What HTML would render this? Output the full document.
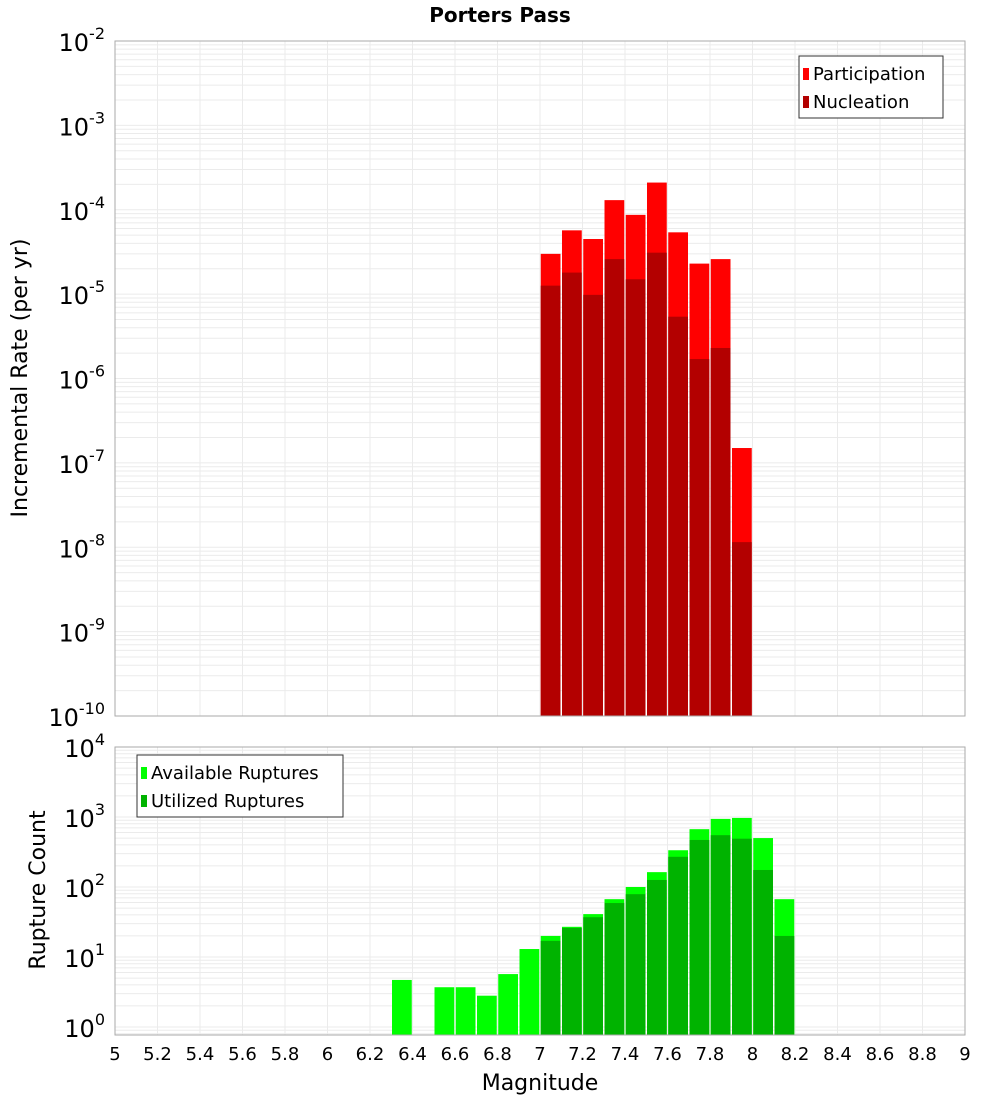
<!DOCTYPE html>
<html><head><meta charset="utf-8"><style>
body{margin:0;background:#fff;font-family:"Liberation Sans","DejaVu Sans",sans-serif}
svg text{font-family:"DejaVu Sans","Liberation Sans",sans-serif}
</style></head><body>
<svg id="c" width="1000" height="1100" xmlns="http://www.w3.org/2000/svg">
<text x="500" y="22" text-anchor="middle" font-size="20" font-weight="bold">Porters Pass</text>
<g id="top"></g>
<g id="bot"></g>
<text transform="translate(27,378) rotate(-90)" text-anchor="middle" font-size="22">Incremental Rate (per yr)</text>
<text transform="translate(45,890) rotate(-90)" text-anchor="middle" font-size="22">Rupture Count</text>
<text x="540" y="1090" text-anchor="middle" font-size="22">Magnitude</text>
</svg>
<script>
const topMags=[7.05,7.15,7.25,7.35,7.45,7.55,7.65,7.75,7.85,7.95];
const participation=[3.0e-5,5.7e-5,4.5e-5,1.3e-4,8.7e-5,2.1e-4,5.4e-5,2.3e-5,2.6e-5,1.5e-7];
const nucleation=[1.26e-5,1.8e-5,9.8e-6,2.6e-5,1.5e-5,3.1e-5,5.4e-6,1.7e-6,2.3e-6,1.15e-8];
const botMags=[6.35,6.55,6.65,6.75,6.85,6.95,7.05,7.15,7.25,7.35,7.45,7.55,7.65,7.75,7.85,7.95,8.05,8.15];
const available=[4.7,3.7,3.7,2.8,5.7,13,20,27,41,67,100,163,335,670,940,970,500,67];
const utilized=[0,0,0,0,0,0,17,26,37,59,79,126,270,470,550,490,175,20];
const xTicks=[5,5.2,5.4,5.6,5.8,6,6.2,6.4,6.6,6.8,7,7.2,7.4,7.6,7.8,8,8.2,8.4,8.6,8.8,9];
const topExps=[-2,-3,-4,-5,-6,-7,-8,-9,-10];
const botExps=[4,3,2,1,0];
const NS="http://www.w3.org/2000/svg";
const X0=115,X1=965;
const x=m=>X0+(m-5)/4*(X1-X0);
function el(p,t,a){const e=document.createElementNS(NS,t);for(const k in a)e.setAttribute(k,a[k]);p.appendChild(e);return e;}
function panel(g,y0,y1,lmax,lmin,plotBottom,name){
  const y=v=>y0+(lmax-Math.log10(v))/(lmax-lmin)*(y1-y0);
  const r=el(g,'rect',{x:X0,y:y0,width:X1-X0,height:plotBottom-y0,fill:'#fff'});
  
  for(let e=lmin-1;e<lmax;e++)for(let k=1;k<10;k++){const yy=y(k*Math.pow(10,e));if(yy<y0||yy>plotBottom)continue;
    const l=el(g,'line',{x1:X0,x2:X1,y1:yy,y2:yy,stroke:'#ebebeb','stroke-width':1});
    }
  xTicks.forEach(t=>{const l=el(g,'line',{x1:x(t),x2:x(t),y1:y0,y2:plotBottom,stroke:'#ebebeb','stroke-width':1});
    });
  return y;
}
const gt=document.getElementById('top'),gb=document.getElementById('bot');
const yT=panel(gt,41,716,-2,-10,716,'top');
const bw=(x(5.1)-x(5))-1.5;
topMags.forEach((m,i)=>{
  let r=el(gt,'rect',{x:x(m)-bw/2,y:yT(participation[i]),width:bw,height:716-yT(participation[i]),fill:'#ff0000'});
  
  r=el(gt,'rect',{x:x(m)-bw/2,y:yT(nucleation[i]),width:bw,height:716-yT(nucleation[i]),fill:'#b30000'});
  
});
el(gt,'rect',{x:X0,y:41,width:X1-X0,height:675,fill:'none',stroke:'#aaa'});
topExps.forEach(e=>{const t=el(gt,'text',{x:105,y:yT(Math.pow(10,e))+10,'text-anchor':'end','font-size':24});
  
  t.textContent='10';const s=el(t,'tspan',{dy:-12,'font-size':16});s.textContent=String(e);});
const yB=panel(gb,747,1027,4,0,1035,'bottom');
botMags.forEach((m,i)=>{
  let r=el(gb,'rect',{x:x(m)-bw/2,y:yB(available[i]),width:bw,height:1035-yB(available[i]),fill:'#00ff00'});
  
  if(utilized[i]>0){r=el(gb,'rect',{x:x(m)-bw/2,y:yB(utilized[i]),width:bw,height:1035-yB(utilized[i]),fill:'#00b300'});
  }
});
el(gb,'rect',{x:X0,y:747,width:X1-X0,height:288,fill:'none',stroke:'#aaa'});
botExps.forEach(e=>{const t=el(gb,'text',{x:105,y:yB(Math.pow(10,e))+10,'text-anchor':'end','font-size':24});
  
  t.textContent='10';const s=el(t,'tspan',{dy:-12,'font-size':16});s.textContent=String(e);});
xTicks.forEach(v=>{const t=el(gb,'text',{x:x(v),y:1060,'text-anchor':'middle','font-size':18});
  t.textContent=String(v);});
function legend(g,lx,ly,w,items,name){
  const b=el(g,'rect',{x:lx,y:ly,width:w,height:62,fill:'#fff',stroke:'#333'});
  
  items.forEach((it,i)=>{const s=el(g,'rect',{x:lx+4,y:ly+12+i*28,width:6,height:12,fill:it[1]});
    
    const t=el(g,'text',{x:lx+14,y:ly+24+i*28,'font-size':18});
    t.textContent=it[0];});
}
legend(gt,799,56,144,[['Participation','#ff0000'],['Nucleation','#b30000']],'top-legend');
legend(gb,137,755,206,[['Available Ruptures','#00ff00'],['Utilized Ruptures','#00b300']],'bottom-legend');
</script>
</body></html>
